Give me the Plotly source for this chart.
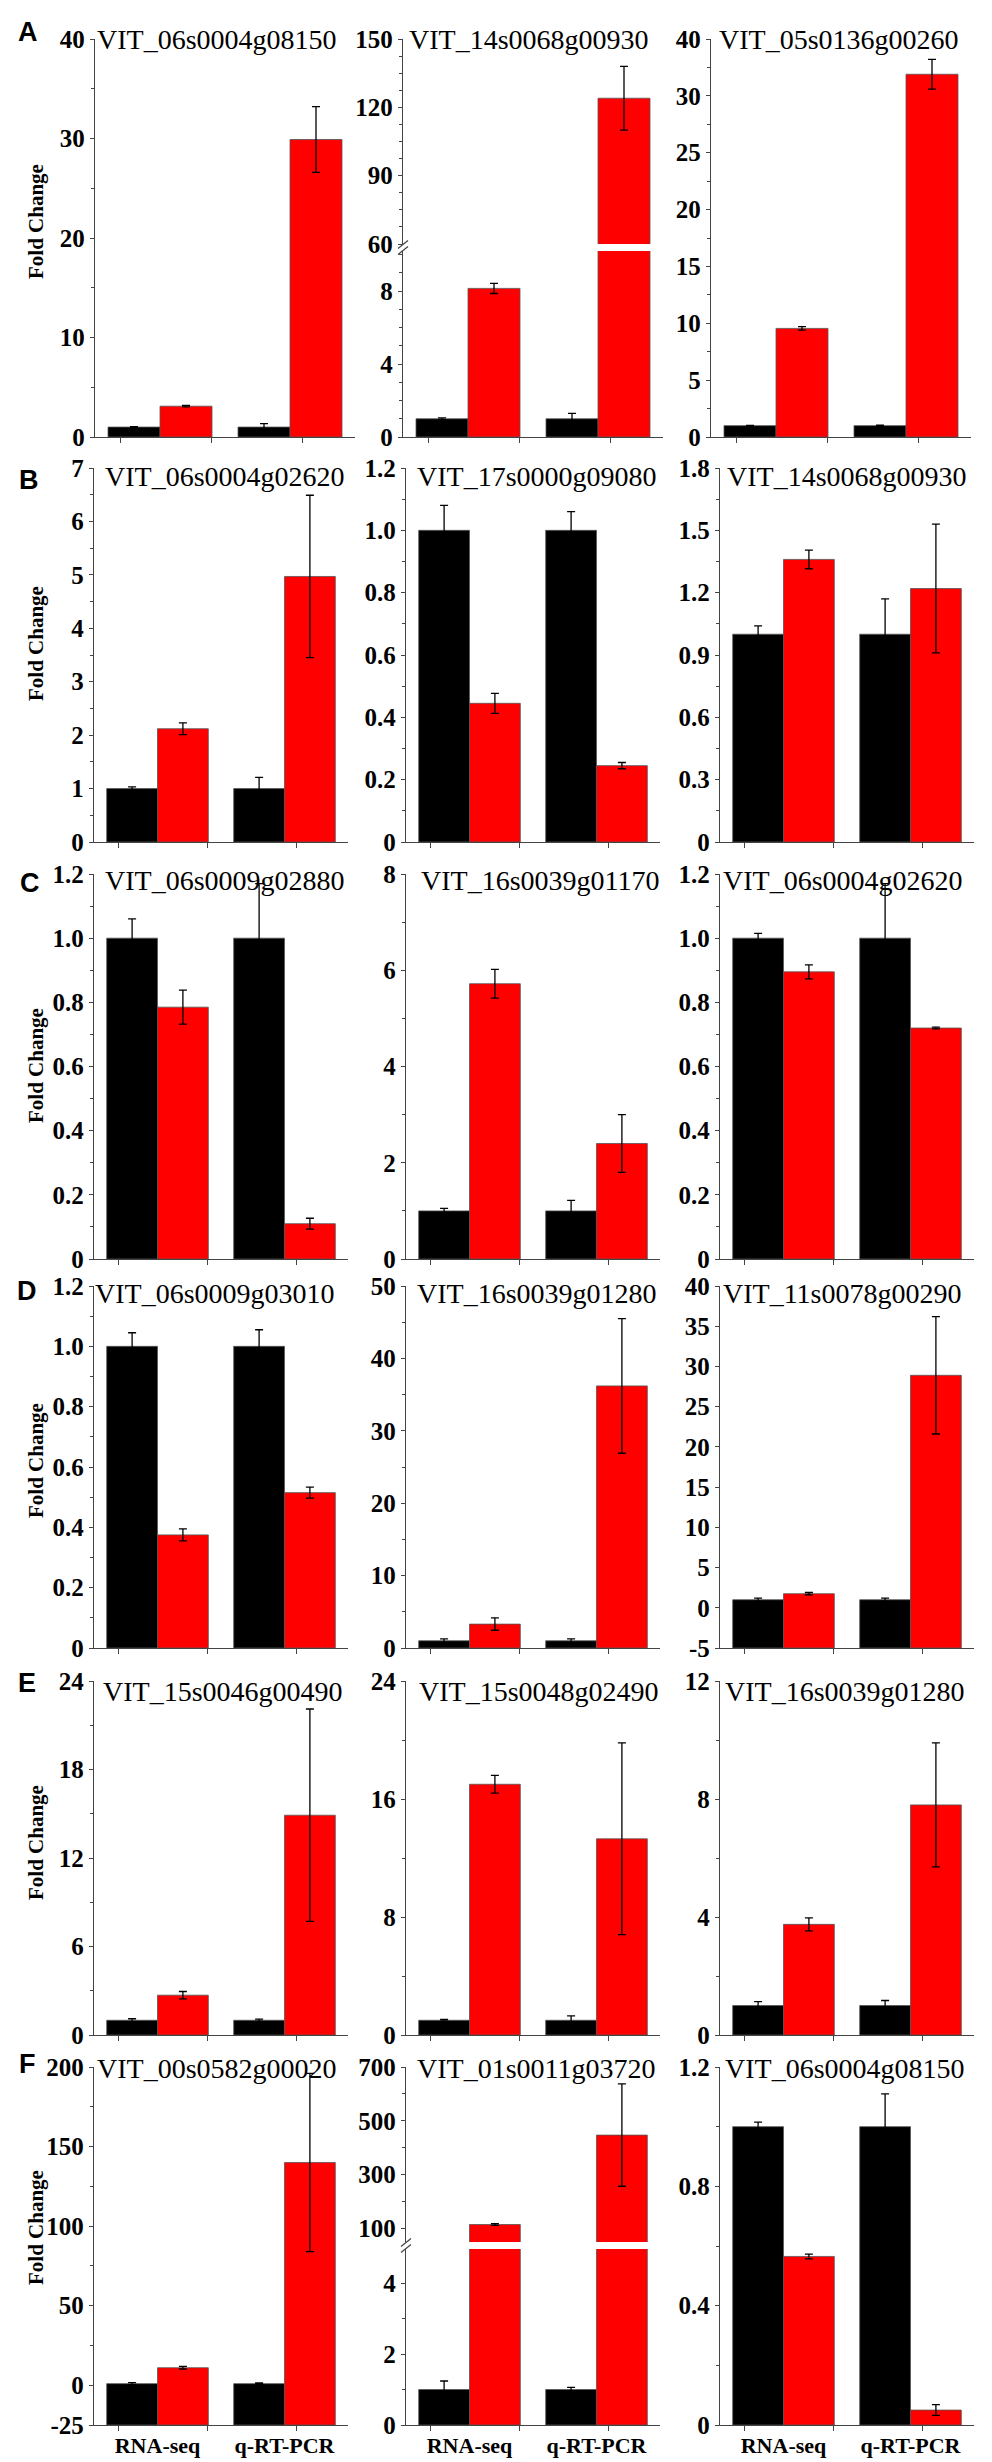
import plotly.graph_objects as go

FIG_W, FIG_H = 992, 2462

# ---------------- data ----------------
categories = ["RNA-seq", "q-RT-PCR"]
row_letters = ["A", "B", "C", "D", "E", "F"]
gene_titles = [
    "VIT_06s0004g08150", "VIT_14s0068g00930", "VIT_05s0136g00260",
    "VIT_06s0004g02620", "VIT_17s0000g09080", "VIT_14s0068g00930",
    "VIT_06s0009g02880", "VIT_16s0039g01170", "VIT_06s0004g02620",
    "VIT_06s0009g03010", "VIT_16s0039g01280", "VIT_11s0078g00290",
    "VIT_15s0046g00490", "VIT_15s0048g02490", "VIT_16s0039g01280",
    "VIT_00s0582g00020", "VIT_01s0011g03720", "VIT_06s0004g08150",
]

# black bars (control), [RNA-seq, q-RT-PCR]
control_values = [
    [1.0, 1.0], [1.0, 1.0], [1.0, 1.0],
    [1.0, 1.0], [1.0, 1.0], [1.0, 1.0],
    [1.0, 1.0], [1.0, 1.0], [1.0, 1.0],
    [1.0, 1.0], [1.0, 1.0], [1.0, 1.0],
    [1.0, 1.0], [1.0, 1.0], [1.0, 1.0],
    [1.0, 1.0], [1.0, 1.0], [1.0, 1.0],
]
control_errors = [
    [0.05, 0.35], [0.05, 0.3], [0.03, 0.04],
    [0.03, 0.21], [0.08, 0.06], [0.04, 0.17],
    [0.06, 0.17], [0.05, 0.22], [0.015, 0.17],
    [0.045, 0.055], [0.25, 0.25], [0.2, 0.2],
    [0.1, 0.08], [0.06, 0.3], [0.13, 0.17],
    [0.6, 0.4], [0.24, 0.06], [0.015, 0.11],
]
# red bars (treatment)
treatment_values = [
    [3.1, 29.9], [8.15, 124.0], [9.55, 31.9],
    [2.12, 4.97], [0.445, 0.245], [1.36, 1.22],
    [0.785, 0.11], [5.72, 2.4], [0.895, 0.72],
    [0.375, 0.515], [3.3, 36.2], [1.75, 28.9],
    [2.7, 14.9], [17.0, 13.3], [3.75, 7.8],
    [11.0, 140.0], [115.0, 447.0], [0.565, 0.05],
]
treatment_errors = [
    [0.08, 3.3], [0.28, 14.0], [0.15, 1.3],
    [0.11, 1.52], [0.032, 0.01], [0.045, 0.31],
    [0.053, 0.017], [0.3, 0.6], [0.022, 0.003],
    [0.02, 0.018], [0.85, 9.3], [0.15, 7.3],
    [0.25, 7.2], [0.6, 6.5], [0.22, 2.1],
    [0.8, 56.0], [3.0, 190.0], [0.008, 0.018],
]

# y axes (lower segment for broken axes)
y_ranges = [
    [0, 40], [0, 10.2], [0, 35],
    [0, 7], [0, 1.2], [0, 1.8],
    [0, 1.2], [0, 8], [0, 1.2],
    [0, 1.2], [0, 50], [-5, 40],
    [0, 24], [0, 24], [0, 12],
    [-25, 200], [0, 4.96], [0, 1.2],
]
tt12 = ["0", "0.2", "0.4", "0.6", "0.8", "1.0", "1.2"]
tv12 = [0, 0.2, 0.4, 0.6, 0.8, 1.0, 1.2]
y_tickvals = [
    [0, 10, 20, 30, 40], [0, 4, 8], [0, 5, 10, 15, 20, 25, 30, 35],
    [0, 1, 2, 3, 4, 5, 6, 7], tv12, [0, 0.3, 0.6, 0.9, 1.2, 1.5, 1.8],
    tv12, [0, 2, 4, 6, 8], tv12,
    tv12, [0, 10, 20, 30, 40, 50], [-5, 0, 5, 10, 15, 20, 25, 30, 35, 40],
    [0, 6, 12, 18, 24], [0, 8, 16, 24], [0, 4, 8, 12],
    [-25, 0, 50, 100, 150, 200], [0, 2, 4], [0, 0.4, 0.8, 1.2],
]
y_ticktext = [
    ["0", "10", "20", "30", "40"], ["0", "4", "8"], ["0", "5", "10", "15", "20", "25", "30", "40"],
    ["0", "1", "2", "3", "4", "5", "6", "7"], tt12, ["0", "0.3", "0.6", "0.9", "1.2", "1.5", "1.8"],
    tt12, ["0", "2", "4", "6", "8"], tt12,
    tt12, ["0", "10", "20", "30", "40", "50"], ["-5", "0", "5", "10", "15", "20", "25", "30", "35", "40"],
    ["0", "6", "12", "18", "24"], ["0", "8", "16", "24"], ["0", "4", "8", "12"],
    ["-25", "0", "50", "100", "150", "200"], ["0", "2", "4"], ["0", "0.4", "0.8", "1.2"],
]
y_minor_dtick = [
    5, 1, 2.5,
    0.5, 0.1, 0.15,
    0.1, 1, 0.1,
    0.1, 5, None,
    3, 4, 2,
    25, 1, 0.2,
]
# upper segments of the broken axes (panel index -> settings)
upper_ranges = {1: [60, 150], 16: [50, 700]}
upper_tickvals = {1: [60, 90, 120, 150], 16: [100, 300, 500, 700]}
upper_ticktext = {1: ["60", "90", "120", "150"], 16: ["100", "300", "500", "700"]}
upper_minor_dtick = {1: 7.5, 16: 100}

# ---------------- layout geometry (px) ----------------
row_top = [31, 460, 866, 1278, 1673, 2059]
row_bottom = [429, 834, 1251, 1640, 2027, 2417]
col_left = [[87, 395, 703], [86, 398, 712], [86, 398, 712],
            [86, 398, 712], [86, 398, 712], [86, 398, 712]]
plot_width = [260, 254, 254, 254, 254, 254]
break_px = {1: (236, 243), 16: (2234, 2241)}
title_left = [[88, 400, 710], [96, 408, 718], [96, 412, 714],
              [86, 408, 714], [94, 410, 716], [88, 408, 716]]
title_cy = [32, 469, 872, 1285, 1683, 2060]
letter_pos = [(20, 24), (21, 472), (22, 875), (19, 1283), (19, 1675), (19, 2056)]
foldchange_cy = [214, 636, 1058, 1453, 1835, 2220]

AX_COLOR = "#444444"
BLACK = "#000000"
RED = "#FF0000"
TICK_FONT = dict(family="Liberation Serif", size=25, color="black", weight="bold")


def px_x(p):
    return p / FIG_W


def px_y(p):
    return 1 - p / FIG_H


fig = go.Figure()
layout_axes = {}
xpos = list(range(len(categories)))


def add_bars(i, xname, yname, base):
    for vals, errs, color, off in [
        (control_values[i], control_errors[i], BLACK, -0.4),
        (treatment_values[i], treatment_errors[i], RED, 0.0),
    ]:
        fig.add_trace(go.Bar(
            x=xpos, y=[v - base for v in vals], base=base,
            offset=off, width=0.4,
            marker=dict(color=color, line=dict(color="#555555", width=0.8)),
            error_y=dict(type="data", array=errs, visible=True,
                         color="black", thickness=1.3, width=4),
            xaxis=xname, yaxis=yname, showlegend=False,
        ))


def yaxis_dict(dom, anchor, rng, tv, tt, mdt):
    d = dict(domain=dom, anchor=anchor, range=rng, showline=True,
             linecolor=AX_COLOR, linewidth=1.4, ticks="outside", ticklen=4,
             tickwidth=1.2, tickcolor=AX_COLOR, tickmode="array",
             tickvals=tv, ticktext=tt, tickfont=TICK_FONT,
             showgrid=False, zeroline=False, fixedrange=True)
    if mdt is not None:
        d["minor"] = dict(tick0=0, dtick=mdt, ticks="outside", ticklen=2.5,
                          tickwidth=1, tickcolor=AX_COLOR, showgrid=False)
    return d


n_extra = 18
for i in range(18):
    r, c = divmod(i, 3)
    ax = i + 1
    xname = "x" if ax == 1 else f"x{ax}"
    yname = "y" if ax == 1 else f"y{ax}"
    xl = col_left[r][c]
    xr = xl + plot_width[r]
    top, bot = row_top[r], row_bottom[r]
    lower_top = break_px[i][1] if i in break_px else top

    add_bars(i, xname, yname, y_ranges[i][0])

    layout_axes["xaxis" if ax == 1 else f"xaxis{ax}"] = dict(
        domain=[px_x(xl), px_x(xr)], anchor=yname, range=[-0.5, 1.5],
        showline=True, linecolor=AX_COLOR, linewidth=1.4,
        tickmode="array", tickvals=xpos, ticktext=categories, ticks="",
        showticklabels=(r == 5), tickfont=dict(family="Liberation Serif", size=22,
                                              color="black", weight="bold"),
        ticklabelstandoff=0,
        minor=dict(tickmode="array", tickvals=[-0.305, 0.395, 1.095],
                   ticks="outside", ticklen=5, tickwidth=1.2, tickcolor=AX_COLOR,
                   showgrid=False),
        showgrid=False, zeroline=False, fixedrange=True,
    )
    layout_axes["yaxis" if ax == 1 else f"yaxis{ax}"] = yaxis_dict(
        [px_y(bot), px_y(lower_top)], xname, y_ranges[i], y_tickvals[i],
        y_ticktext[i], y_minor_dtick[i])

    if i in break_px:
        n_extra += 1
        uy = f"y{n_extra}"
        add_bars(i, xname, uy, 0)
        layout_axes[f"yaxis{n_extra}"] = yaxis_dict(
            [px_y(break_px[i][0]), px_y(top)], xname, upper_ranges[i],
            upper_tickvals[i], upper_ticktext[i], upper_minor_dtick[i])

annotations = []
shapes = []
for i in range(18):
    r, c = divmod(i, 3)
    annotations.append(dict(
        text=gene_titles[i], x=px_x(title_left[r][c]), y=px_y(title_cy[r]),
        xref="paper", yref="paper", xanchor="left", yanchor="middle",
        showarrow=False, borderpad=0,
        font=dict(family="Liberation Serif", size=28, color="black")))

for r in range(6):
    lx, ly = letter_pos[r]
    annotations.append(dict(
        text=row_letters[r], x=px_x(lx), y=px_y(ly), xref="paper", yref="paper",
        xanchor="center", yanchor="middle", showarrow=False,
        font=dict(family="Liberation Sans", size=27, color="black", weight="bold")))
    annotations.append(dict(
        text="Fold Change", x=px_x(28), y=px_y(foldchange_cy[r]), xref="paper",
        yref="paper", xanchor="center", yanchor="middle", textangle=-90,
        showarrow=False,
        font=dict(family="Liberation Serif", size=21, color="black", weight="bold")))

# axis-break marks
for i, (ub, lt) in break_px.items():
    r, c = divmod(i, 3)
    xa = col_left[r][c]
    mid = (ub + lt) / 2
    for dy in (-3, 3):
        shapes.append(dict(type="line", xref="paper", yref="paper",
                           x0=px_x(xa - 5), y0=px_y(mid + dy + 4),
                           x1=px_x(xa + 5), y1=px_y(mid + dy - 4),
                           line=dict(color=AX_COLOR, width=1.3)))

fig.update_layout(
    width=FIG_W, height=FIG_H, template="none",
    margin=dict(l=0, r=0, t=0, b=0),
    paper_bgcolor="white", plot_bgcolor="white",
    barmode="overlay", showlegend=False,
    annotations=annotations, shapes=shapes,
    **layout_axes,
)

fig.write_html("out.html", config={"displayModeBar": False})
